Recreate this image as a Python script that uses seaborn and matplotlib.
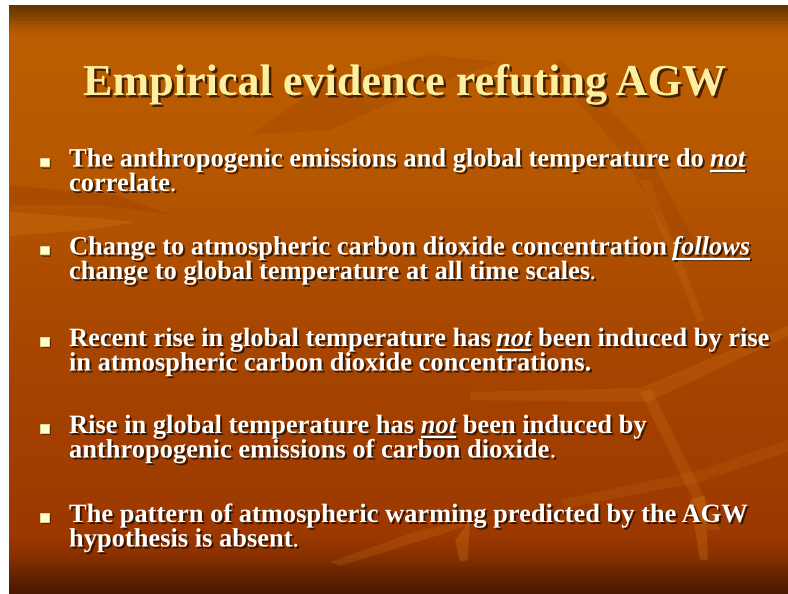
import numpy as np
import matplotlib
matplotlib.use("Agg")
import matplotlib.pyplot as plt
import matplotlib.patheffects as pe
from matplotlib.colors import LinearSegmentedColormap
import seaborn as sns

# ---------------- content ----------------
TITLE = "Empirical evidence refuting AGW"

# each bullet = list of lines; each line = list of (text, style)
# style: 'b' bold, 'u' bold italic underlined, 'p' plain weight, no space before
BULLET_1 = [[("The anthropogenic emissions and global temperature do", "b"), ("not", "u")],
            [("correlate", "b"), (".", "p")]]
BULLET_2 = [[("Change to atmospheric carbon dioxide concentration", "b"), ("follows", "u")],
            [("change to global temperature at all time scales", "b"), (".", "p")]]
BULLET_3 = [[("Recent rise in global temperature has", "b"), ("not", "u"), ("been induced by rise", "b")],
            [("in atmospheric carbon dioxide concentrations.", "b")]]
BULLET_4 = [[("Rise in global temperature has", "b"), ("not", "u"), ("been induced by", "b")],
            [("anthropogenic emissions of carbon dioxide", "b"), (".", "p")]]
BULLET_5 = [[("The pattern of atmospheric warming predicted by the AGW", "b")],
            [("hypothesis is absent", "b"), (".", "p")]]
BULLETS = [BULLET_1, BULLET_2, BULLET_3, BULLET_4, BULLET_5]

# first-line baselines (px from top) and first-line widths (px)
BASELINES = [166.5, 254.5, 346, 433, 522]
LINE1_WIDTHS = [676, 682, 701, 577, 678]

# background gradient stops (fraction of slide height, colour)
GRAD_POS = [0.0, 0.015, 0.035, 0.055, 0.25, 0.55, 0.90, 0.935, 0.965, 1.0]
GRAD_COL = ["#663400", "#7C4200", "#AC5700", "#BB5D00", "#B75800", "#A84700",
            "#9C3800", "#8C3100", "#6C2600", "#4A1900"]

# ---------------- figure ----------------
sns.set_theme(style="white")
W, H = 788, 594
fig = plt.figure(figsize=(W / 100, H / 100), dpi=100, facecolor="white")

bg = fig.add_axes([9 / W, 0, (W - 9) / W, (H - 5) / H])
cmap = LinearSegmentedColormap.from_list("slide", list(zip(GRAD_POS, GRAD_COL)))
grad = np.linspace(0, 1, 400)[:, None]
sns.heatmap(grad, ax=bg, cmap=cmap, cbar=False, vmin=0, vmax=1,
            xticklabels=False, yticklabels=False)
bg.set_axis_off()

ax = fig.add_axes([0, 0, 1, 1])
ax.set_xlim(0, W)
ax.set_ylim(H, 0)
ax.set_axis_off()
ax.patch.set_alpha(0)

# decorative leaf streaks (faint)
light = "#E08A22"
dark = "#7E2A00"
decor = [
    (light, 0.22, [(10, 212), (95, 218), (135, 222), (90, 230), (10, 236)]),
    (dark, 0.18, [(10, 185), (120, 196), (170, 215), (100, 205), (10, 205)]),
    (dark, 0.14, [(250, 135), (330, 80), (430, 55), (500, 62), (420, 90), (330, 130)]),
    (light, 0.18, [(470, 392), (640, 388), (790, 325), (790, 335), (648, 402), (470, 400)]),
    (light, 0.18, [(640, 392), (652, 390), (720, 530), (708, 530)]),
    (light, 0.16, [(640, 180), (650, 180), (705, 320), (697, 322)]),
    (light, 0.18, [(330, 562), (420, 530), (500, 515), (430, 538), (340, 566)]),
    (light, 0.25, [(455, 540), (470, 520), (468, 560), (460, 562)]),
    (light, 0.25, [(690, 500), (705, 495), (708, 560), (700, 560)]),
    (dark, 0.14, [(560, 60), (640, 140), (700, 250), (680, 255), (620, 150), (550, 70)]),
    (light, 0.13, [(560, 500), (700, 470), (788, 440), (788, 452), (700, 482), (565, 508)]),
]
for col, a, pts in decor:
    xs, ys = zip(*pts)
    ax.fill(xs, ys, color=col, alpha=a, lw=0, zorder=1)

renderer = fig.canvas.get_renderer()
FAMILY = "Liberation Serif"
text_shadow = [pe.withSimplePatchShadow(offset=(1.4, -1.4), shadow_rgbFace="black", alpha=0.65)]


def measure(s, size, style="normal", weight="bold"):
    t = ax.text(0, 0, s, fontsize=size, family=FAMILY, fontstyle=style, fontweight=weight)
    w = t.get_window_extent(renderer=renderer).width
    t.remove()
    return w


def seg_props(style):
    if style == "u":
        return "italic", "bold"
    if style == "p":
        return "normal", "normal"
    return "normal", "bold"


def line_width(line, size):
    sp = measure("x x", size) - measure("xx", size)
    w = 0
    for i, (s, st) in enumerate(line):
        fs, fw = seg_props(st)
        if i > 0 and st != "p":
            w += sp
        w += measure(s, size, fs, fw)
    return w


def draw_line(x, y, line, size):
    sp = measure("x x", size) - measure("xx", size)
    for i, (s, st) in enumerate(line):
        fs, fw = seg_props(st)
        if i > 0 and st != "p":
            x += sp
        t = ax.text(x, y, s, fontsize=size, family=FAMILY, fontstyle=fs, fontweight=fw,
                    color="white", ha="left", va="baseline", zorder=5,
                    path_effects=text_shadow)
        w = t.get_window_extent(renderer=renderer).width
        if st == "u":
            ax.plot([x, x + w], [y + 4.2, y + 4.2], color="white", lw=1.6,
                    solid_capstyle="butt", zorder=5,
                    path_effects=[pe.SimpleLineShadow(offset=(1.2, -1.2), shadow_color="black", alpha=0.6), pe.Normal()])
        x += w


# title
base_size = 30
tw = measure(TITLE, base_size)
tsize = base_size * 642 / tw
ax.text(404, 95, TITLE, fontsize=tsize, family=FAMILY, fontweight="bold",
        color="#FCEFA0", ha="center", va="baseline", zorder=5,
        path_effects=[pe.withSimplePatchShadow(offset=(1.8, -1.8), shadow_rgbFace="#2A1000", alpha=0.8)])

# bullets
for bullet, y0, target in zip(BULLETS, BASELINES, LINE1_WIDTHS):
    size = 18 * target / line_width(bullet[0], 18)
    for k, line in enumerate(bullet):
        draw_line(69, y0 + k * 24.5, line, size)
    ax.plot([44.5], [y0 - 4.5], marker="s", ms=6, color="#FFFFCC", mec="#E6DDA0", mew=0.6,
            zorder=5, path_effects=[pe.SimpleLineShadow(offset=(1, -1), shadow_color="black", alpha=0.5), pe.Normal()])

fig.savefig("out.png", dpi=100, facecolor="white")
